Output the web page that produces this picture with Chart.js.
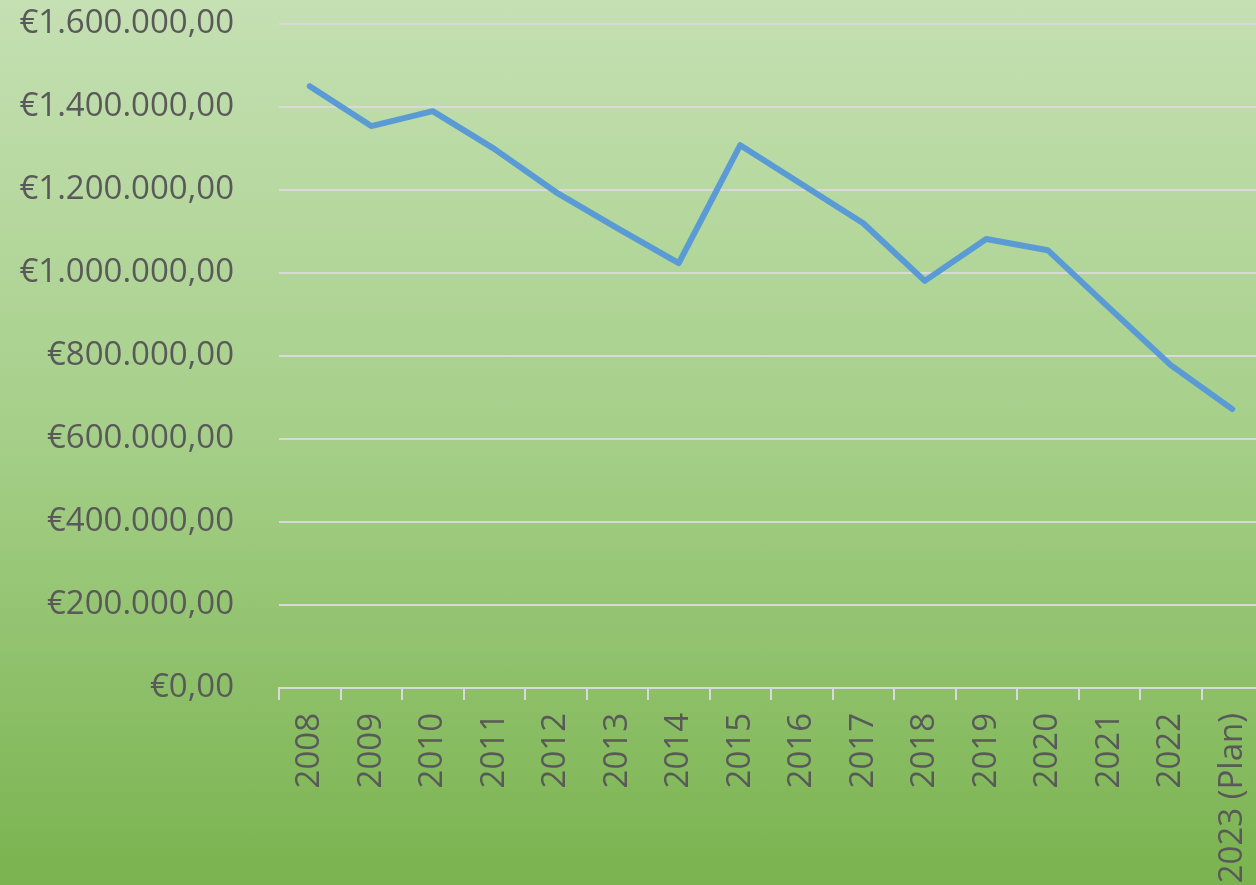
<!DOCTYPE html>
<html>
<head>
<meta charset="utf-8">
<script src="https://cdn.jsdelivr.net/npm/chart.js@4.4.1/dist/chart.umd.min.js"></script>
<style>
  html, body { margin: 0; padding: 0; overflow: hidden; width: 1256px; height: 885px; }
  body { background: linear-gradient(to bottom, #c5e0b3 0%, #a5cf88 50%, #7ab34f 100%); }
  #chart { display: block; }
</style>
</head>
<body>
<canvas id="chart" width="1266" height="885"></canvas>
<script>
const years = ['2008', '2009', '2010', '2011', '2012', '2013', '2014', '2015',
               '2016', '2017', '2018', '2019', '2020', '2021', '2022', '2023 (Plan)'];
const amounts = [1450000, 1354000, 1390000, 1299000, 1195000, 1108000, 1024000, 1308000,
                 1214000, 1120000, 981000, 1082000, 1055000, 916000, 778000, 672000];
const yMin = 0;
const yMax = 1600000;
const yStep = 200000;

const textColor = '#595959';
const gridColor = '#d9d9d9';

function euro(v){
    return '€' + v.toLocaleString('de-DE', {minimumFractionDigits: 2, maximumFractionDigits: 2});
}

const chartData = {
    labels: years,
    datasets: [{
        label: 'Betrag',
        data: amounts,
        borderColor: '#5b9bd5',
        borderWidth: 6,
        pointRadius: 0,
        tension: 0,
        borderCapStyle: 'round',
        borderJoinStyle: 'round',
        fill: false
    }]
};

const chartConfig = {
    type: 'line',
    data: chartData,
    options: {
        responsive: false,
        animation: false,
        layout: {
            padding: { left: 0, top: 24, right: 3, bottom: 0 }
        },
        plugins: {
            legend: { display: false },
            tooltip: { enabled: false }
        },
        scales: {
            x: {
                offset: true,
                grid: {
                    offset: true,
                    drawOnChartArea: false,
                    drawTicks: true,
                    tickLength: 12,
                    color: gridColor,
                    lineWidth: 2
                },
                border: { color: gridColor, width: 2 },
                ticks: {
                    color: textColor,
                    font: { family: 'Open Sans', size: 33 },
                    minRotation: 90,
                    maxRotation: 90,
                    autoSkip: false,
                    padding: 13
                },
                afterFit: function(scale){
                    scale.height = 197;
                    scale.paddingLeft = 0;
                    scale.paddingRight = 0;
                }
            },
            y: {
                min: yMin,
                max: yMax,
                grid: {
                    color: gridColor,
                    lineWidth: 2,
                    drawTicks: false
                },
                border: { display: false },
                ticks: {
                    stepSize: yStep,
                    color: textColor,
                    font: { family: 'Open Sans', size: 33 },
                    padding: 45,
                    callback: function(v){ return euro(v); }
                },
                afterFit: function(scale){
                    scale.width = 279;
                    scale.paddingTop = 0;
                    scale.paddingBottom = 0;
                }
            }
        }
    }
};

new Chart(document.getElementById('chart'), chartConfig);
</script>
</body>
</html>
